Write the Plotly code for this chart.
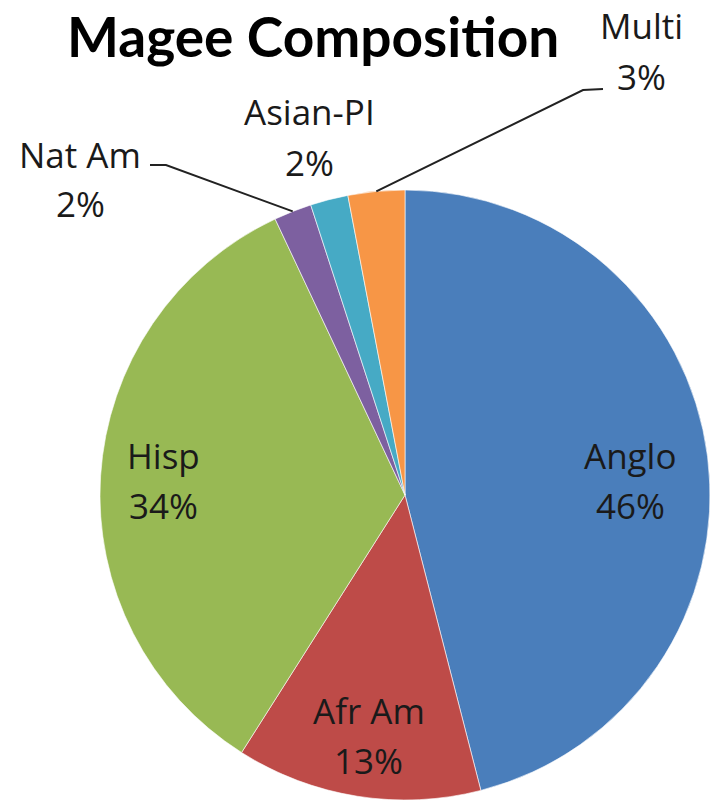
import math
import plotly.graph_objects as go

# --- dados ---
labels = ["Anglo", "Afr Am", "Hisp", "Nat Am", "Asian-PI", "Multi"]
values = [46, 13, 34, 2, 2, 3]
colors = ["#4A7EBB", "#BE4B48", "#98B954", "#7D60A0", "#46AAC5", "#F79646"]

W, H = 711, 806
cx, cy, R = 405, 495, 305  # centro e raio da pizza em pixels
FONT = "Open Sans"
TXT = "#1a1a1a"


def to_paper(px, py):
    return px / W, 1 - py / H


def slice_point(i, frac):
    # ponto no meio da fatia i, a frac*R do centro (sentido horário a partir do topo)
    total = sum(values)
    mid = (sum(values[:i]) + values[i] / 2) / total * 2 * math.pi
    return cx + frac * R * math.sin(mid), cy - frac * R * math.cos(mid)


x0, y0 = to_paper(cx - R, cy + R)
x1, y1 = to_paper(cx + R, cy - R)

fig = go.Figure(go.Pie(
    labels=labels,
    values=values,
    sort=False,
    direction="clockwise",
    rotation=0,
    marker=dict(colors=colors, line=dict(color="rgba(255,255,255,0.6)", width=1)),
    textinfo="none",
    hoverinfo="label+percent",
    domain=dict(x=[x0, x1], y=[y0, y1]),
    showlegend=False,
))

annotations = []
shapes = []


def add_label(px, py, name, pct):
    for txt, dy in ((name, -25), (pct, 25)):
        ax, ay = to_paper(px, py + dy)
        annotations.append(dict(x=ax, y=ay, xref="paper", yref="paper", text=txt,
                                showarrow=False, xanchor="center", yanchor="middle",
                                font=dict(family=FONT, size=35, color=TXT)))


# rótulos internos (fatias grandes), com pequeno ajuste como no Excel
nudge = {0: (-4, 15), 1: (0, 12), 2: (-10, 0)}
for i in range(3):
    px, py = slice_point(i, 0.76)
    add_label(px + nudge[i][0], py + nudge[i][1], labels[i], f"{values[i]}%")

# rótulos externos (fatias pequenas) com linhas de chamada
outside = {
    3: dict(pos=(80, 179), line=[(150, 165), (166, 165)]),
    4: dict(pos=(309, 137), line=None),
    5: dict(pos=(641, 51), line=[(603, 89), (583, 90)]),
}
for i, o in outside.items():
    add_label(o["pos"][0], o["pos"][1], labels[i], f"{values[i]}%")
    if o["line"]:
        ex, ey = slice_point(i, 1.0)
        pts = o["line"] + [(ex, ey)]
        path = ""
        for k, (px, py) in enumerate(pts):
            qx, qy = to_paper(px, py)
            path += ("M" if k == 0 else " L") + f" {qx:.5f},{qy:.5f}"
        shapes.append(dict(type="path", path=path, xref="paper", yref="paper",
                           line=dict(color="#222222", width=2)))

tx, ty = to_paper(313, 36)
annotations.append(dict(x=tx, y=ty, xref="paper", yref="paper",
                        text="<b>Magee Composition</b>", showarrow=False,
                        xanchor="center", yanchor="middle",
                        font=dict(family="Lato", size=55, color="#000000")))

fig.update_layout(
    width=W, height=H,
    margin=dict(t=0, l=0, r=0, b=0),
    paper_bgcolor="white",
    plot_bgcolor="white",
    annotations=annotations,
    shapes=shapes,
)

# sem margem no <body>, para a figura ocupar a janela inteira
fig.write_html("out.html", config={"displayModeBar": False},
               post_script="document.body.style.margin='0';")
